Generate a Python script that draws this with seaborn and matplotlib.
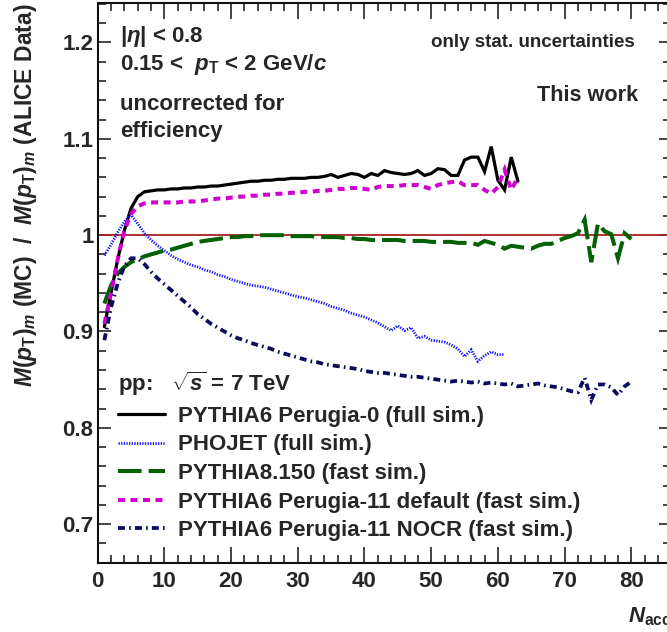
import numpy as np
import pandas as pd
import matplotlib
matplotlib.use("Agg")
import matplotlib.pyplot as plt
from matplotlib.ticker import MultipleLocator
import seaborn as sns

# ---- data: ratio of mean pT (MC / data) vs. accepted multiplicity ----
n_p0 = list(range(1, 64))
ratio_p0 = [0.905, 0.940, 0.975, 1.005, 1.028, 1.040, 1.045, 1.046, 1.047, 1.047,
            1.048, 1.048, 1.049, 1.049, 1.050, 1.050, 1.051, 1.051, 1.052, 1.053,
            1.054, 1.055, 1.056, 1.056, 1.057, 1.057, 1.058, 1.058, 1.059, 1.059,
            1.059, 1.060, 1.060, 1.061, 1.063, 1.060, 1.062, 1.064, 1.063, 1.060,
            1.064, 1.062, 1.067, 1.065, 1.064, 1.063, 1.064, 1.067, 1.062, 1.064,
            1.069, 1.068, 1.062, 1.062, 1.078, 1.081, 1.081, 1.066, 1.092, 1.057,
            1.047, 1.081, 1.056]

n_phojet = list(range(1, 62))
ratio_phojet = [0.979, 0.990, 1.003, 1.014, 1.021, 1.012, 1.002, 0.995, 0.989, 0.984,
                0.979, 0.975, 0.972, 0.969, 0.967, 0.964, 0.962, 0.959, 0.957, 0.954,
                0.952, 0.950, 0.948, 0.947, 0.946, 0.944, 0.942, 0.940, 0.938, 0.936,
                0.935, 0.933, 0.931, 0.929, 0.926, 0.924, 0.922, 0.919, 0.917, 0.915,
                0.912, 0.909, 0.905, 0.901, 0.906, 0.901, 0.904, 0.893, 0.895, 0.891,
                0.890, 0.889, 0.886, 0.882, 0.874, 0.881, 0.869, 0.875, 0.879, 0.876,
                0.876]

n_py8 = list(range(1, 81))
ratio_py8 = [0.929, 0.948, 0.960, 0.967, 0.972, 0.975, 0.978, 0.980, 0.982, 0.984,
             0.985, 0.987, 0.989, 0.991, 0.993, 0.994, 0.995, 0.996, 0.997, 0.998,
             0.998, 0.999, 0.999, 1.000, 1.000, 1.000, 1.000, 1.000, 0.999, 0.999,
             0.999, 0.999, 0.998, 0.998, 0.998, 0.998, 0.997, 0.997, 0.996, 0.996,
             0.995, 0.995, 0.995, 0.995, 0.995, 0.994, 0.994, 0.994, 0.994, 0.993,
             0.993, 0.993, 0.993, 0.992, 0.992, 0.992, 0.990, 0.994, 0.992, 0.990,
             0.986, 0.989, 0.988, 0.987, 0.986, 0.989, 0.991, 0.991, 0.994, 0.997,
             0.999, 1.002, 1.016, 0.972, 1.012, 1.004, 1.001, 0.976, 1.002, 0.996]

n_p11 = list(range(1, 64))
ratio_p11 = [0.908, 0.940, 0.975, 1.005, 1.022, 1.030, 1.033, 1.034, 1.034, 1.034,
             1.034, 1.034, 1.035, 1.035, 1.035, 1.036, 1.037, 1.038, 1.038, 1.039,
             1.040, 1.040, 1.041, 1.041, 1.042, 1.042, 1.043, 1.043, 1.044, 1.044,
             1.045, 1.045, 1.046, 1.046, 1.047, 1.048, 1.048, 1.049, 1.049, 1.048,
             1.047, 1.050, 1.051, 1.051, 1.051, 1.052, 1.052, 1.052, 1.050, 1.048,
             1.052, 1.054, 1.055, 1.056, 1.052, 1.052, 1.052, 1.047, 1.043, 1.050,
             1.068, 1.047, 1.060]

n_nocr = list(range(1, 81))
ratio_nocr = [0.891, 0.925, 0.950, 0.968, 0.976, 0.976, 0.970, 0.962, 0.955, 0.949,
              0.943, 0.937, 0.931, 0.925, 0.918, 0.913, 0.908, 0.904, 0.900, 0.896,
              0.893, 0.891, 0.888, 0.886, 0.884, 0.882, 0.879, 0.877, 0.875, 0.873,
              0.871, 0.869, 0.868, 0.866, 0.865, 0.864, 0.863, 0.862, 0.861, 0.859,
              0.858, 0.857, 0.857, 0.856, 0.855, 0.854, 0.853, 0.853, 0.852, 0.851,
              0.850, 0.849, 0.848, 0.849, 0.848, 0.847, 0.848, 0.846, 0.847, 0.846,
              0.845, 0.846, 0.843, 0.844, 0.845, 0.846, 0.844, 0.843, 0.842, 0.840,
              0.838, 0.837, 0.852, 0.829, 0.845, 0.845, 0.842, 0.834, 0.843, 0.848]

labels = ["PYTHIA6 Perugia-0 (full sim.)",
          "PHOJET (full sim.)",
          "PYTHIA8.150 (fast sim.)",
          "PYTHIA6 Perugia-11 default (fast sim.)",
          "PYTHIA6 Perugia-11 NOCR (fast sim.)"]

x_ticks = [0, 10, 20, 30, 40, 50, 60, 70, 80]
y_ticks = [0.7, 0.8, 0.9, 1.0, 1.1, 1.2]
y_ticklabels = ["0.7", "0.8", "0.9", "1", "1.1", "1.2"]

# ---- style ----
sns.set_style("ticks")
plt.rcParams["font.family"] = ["Liberation Sans", "DejaVu Sans"]
plt.rcParams["font.weight"] = "bold"
plt.rcParams["mathtext.fontset"] = "custom"
plt.rcParams["mathtext.rm"] = "Liberation Sans:bold"
plt.rcParams["mathtext.bf"] = "Liberation Sans:bold"
plt.rcParams["mathtext.it"] = "Liberation Sans:italic:bold"
plt.rcParams["mathtext.sf"] = "Liberation Sans:bold"
plt.rcParams["lines.scale_dashes"] = False

W, H = 667, 632
fig = plt.figure(figsize=(W / 100, H / 100), dpi=100)
fig.patch.set_facecolor("white")

x_lo, x_hi = 0.0, 86.0
y_lo, y_hi = 0.66, 1.241
px_per_unit = 6.67
ax_left, ax_top, ax_bottom = 97.7, 3.0, 562.7
ax_w = (x_hi - x_lo) * px_per_unit
ax = fig.add_axes([ax_left / W, 1 - ax_bottom / H, ax_w / W, (ax_bottom - ax_top) / H])
ax.set_facecolor("white")

series = [
    (n_p0, ratio_p0, "black", 2.3, "-"),
    (n_phojet, ratio_phojet, "#1010ff", 2.0, (0, (0.9, 1.0))),
    (n_py8, ratio_py8, "#036003", 2.9, (0, (17, 5))),
    (n_p11, ratio_p11, "#d000d0", 2.9, (0, (5, 4))),
    (n_nocr, ratio_nocr, "#0a0a5e", 2.7, (0, (5, 3, 1.2, 3))),
]

ax.axhline(1.0, color="#a8201e", lw=1.3, zorder=1)

for (xs, ys, col, lw, ls), lab in zip(series, labels):
    df = pd.DataFrame({"N": xs, "ratio": ys})
    sns.lineplot(data=df, x="N", y="ratio", ax=ax, color=col, lw=lw,
                 linestyle=ls, label=lab, errorbar=None, sort=False,
                 solid_joinstyle="miter", dash_joinstyle="miter", zorder=3)

ax.set_xlim(x_lo, x_hi)
ax.set_ylim(y_lo, y_hi)
ax.set_xlabel("")
ax.set_ylabel("")
ax.set_xticks(x_ticks)
ax.set_yticks(y_ticks)
ax.set_yticklabels(y_ticklabels)
ax.xaxis.set_minor_locator(MultipleLocator(2))
ax.yaxis.set_minor_locator(MultipleLocator(0.02))
ax.tick_params(axis="both", which="both", direction="in", top=True, right=True,
               labelsize=16, width=1.1, color="#111111")
ax.tick_params(axis="x", which="major", length=11.5, pad=6)
ax.tick_params(axis="x", which="minor", length=5.5)
ax.tick_params(axis="y", which="major", length=9, pad=3)
ax.tick_params(axis="y", which="minor", length=6)
for lab in ax.get_xticklabels() + ax.get_yticklabels():
    lab.set_fontweight("bold")
for sp in ax.spines.values():
    sp.set_linewidth(1.5)
    sp.set_color("#111111")
    sp.set_visible(True)

handles, hl = ax.get_legend_handles_labels()
leg = ax.legend(handles, hl, loc="upper left", frameon=False,
                bbox_to_anchor=(118 / W, 1 - 370 / H), bbox_transform=fig.transFigure,
                prop={"weight": "bold", "size": 16}, handlelength=2.1,
                handletextpad=0.6, labelspacing=0.34, borderpad=0.0,
                borderaxespad=0.0, title=r"pp:   $\sqrt{s}$ = 7 TeV",
                title_fontproperties={"weight": "bold", "size": 16},
                alignment="left")


def ftext(x, y, s, **kw):
    fig.text(x / W, 1 - y / H, s, fontweight="bold", **kw)


ftext(120, 42, r"$|\eta|$ < 0.8", fontsize=16, va="baseline")
ftext(120, 70, r"0.15 <  $p_{\mathrm{T}}$ < 2 GeV/$c$", fontsize=16, va="baseline")
ftext(120, 110, "uncorrected for", fontsize=16, va="baseline")
ftext(120, 137, "efficiency", fontsize=16, va="baseline")
ftext(635, 47, "only stat. uncertainties", fontsize=13.5, va="baseline", ha="right")
ftext(638, 101, "This work", fontsize=15.6, va="baseline", ha="right")

ftext(26, 195, r"$M(p_{\mathrm{T}})_{m}$ (MC)  /  $M(p_{\mathrm{T}})_{m}$ (ALICE Data)",
      fontsize=16.5, rotation=90, ha="center", va="center")
# axis title sits at the far end of the x axis, which runs past the canvas edge
ftext(628, 622, r"$N_{\mathrm{acc}}$", fontsize=16, va="baseline", ha="left")

fig.savefig("out.png", dpi=100, facecolor="white")
